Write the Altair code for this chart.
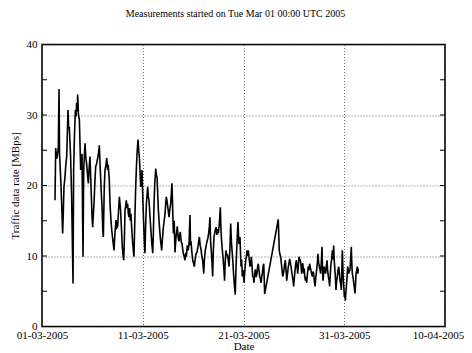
import altair as alt
import pandas as pd

# Day offsets from 2005-03-01 00:00 UTC and traffic rate [MBps]
days = [
    1.29, 1.36, 1.45, 1.52, 1.62, 1.69, 1.74, 1.79, 1.87, 1.95, 2.05, 2.12, 2.18, 2.27, 2.35,
    2.45, 2.52, 2.58, 2.65, 2.71, 2.78, 2.84, 2.94, 3.08, 3.14, 3.22, 3.31, 3.38, 3.44, 3.50,
    3.54, 3.62, 3.71, 3.78, 3.84, 3.92, 3.97, 4.07, 4.14, 4.20, 4.27, 4.35, 4.43, 4.52, 4.60,
    4.68, 4.76, 4.84, 4.90, 4.97, 5.03, 5.10, 5.16, 5.25, 5.33, 5.41, 5.49, 5.60, 5.69, 5.76,
    5.82, 5.90, 5.96, 6.04, 6.09, 6.18, 6.25, 6.35, 6.42, 6.50, 6.58, 6.68, 6.75, 6.85, 6.92,
    7.05, 7.15, 7.25, 7.35, 7.43, 7.51, 7.60, 7.68, 7.80, 7.90, 7.97, 8.05, 8.11, 8.18, 8.24,
    8.30, 8.37, 8.44, 8.50, 8.57, 8.63, 8.70, 8.76, 8.83, 8.90, 8.96, 9.05, 9.13, 9.22, 9.30,
    9.37, 9.43, 9.53, 9.60, 9.66, 9.73, 9.80, 9.87, 9.93, 10.01, 10.09, 10.16, 10.22, 10.29, 10.36,
    10.42, 10.49, 10.55, 10.62, 10.70, 10.79, 10.89, 10.99, 11.05, 11.12, 11.20, 11.29, 11.35, 11.42, 11.48,
    11.55, 11.62, 11.68, 11.78, 11.88, 11.96, 12.05, 12.13, 12.21, 12.28, 12.34, 12.41, 12.48, 12.55, 12.60,
    12.68, 12.77, 12.90, 13.04, 13.12, 13.20, 13.30, 13.37, 13.43, 13.52, 13.60, 13.66, 13.73, 13.82, 13.90,
    13.96, 14.03, 14.10, 14.19, 14.26, 14.33, 14.42, 14.52, 14.60, 14.69, 14.74, 14.79, 14.88, 14.96, 15.04,
    15.12, 15.20, 15.28, 15.38, 15.48, 15.55, 15.62, 15.70, 15.78, 15.86, 15.95, 16.05, 16.12, 16.21, 16.30,
    16.38, 16.46, 16.54, 16.60, 16.67, 16.74, 16.80, 16.88, 16.94, 17.00, 17.07, 17.17, 17.27, 17.36, 17.44,
    17.50, 17.60, 17.70, 17.77, 17.83, 17.92, 17.99, 18.06, 18.12, 18.18, 18.25, 18.32, 18.39, 18.48, 18.56,
    18.65, 18.73, 18.80, 18.86, 18.93, 18.99, 19.06, 19.18, 19.26, 19.36, 19.45, 19.55, 19.65, 19.75, 19.82,
    19.88, 19.96, 20.05, 20.14, 20.22, 20.30, 20.35, 20.42, 20.48, 20.57, 20.65, 20.72, 20.78, 20.85, 20.91,
    20.98, 21.04, 21.11, 21.18, 21.26, 21.34, 21.40, 21.47, 21.54, 21.61, 21.68, 21.74, 21.80, 21.87, 21.94,
    22.01, 22.10, 23.45, 23.55, 23.62, 23.69, 23.79, 23.89, 23.96, 24.02, 24.08, 24.15, 24.22, 24.29, 24.37,
    24.45, 24.52, 24.58, 24.65, 24.72, 24.78, 24.85, 24.92, 24.98, 25.05, 25.12, 25.18, 25.25, 25.32, 25.38,
    25.45, 25.51, 25.58, 25.64, 25.70, 25.77, 25.84, 25.88, 25.96, 26.04, 26.08, 26.14, 26.20, 26.27, 26.35,
    26.43, 26.50, 26.56, 26.62, 26.69, 26.76, 26.83, 26.90, 26.96, 27.03, 27.10, 27.18, 27.26, 27.33, 27.39,
    27.46, 27.53, 27.60, 27.66, 27.72, 27.79, 27.84, 27.89, 27.95, 28.02, 28.08, 28.15, 28.22, 28.29, 28.35,
    28.42, 28.49, 28.55, 28.62, 28.68, 28.75, 28.82, 28.88, 28.95, 29.00, 29.05, 29.12, 29.18, 29.25, 29.32,
    29.38, 29.45, 29.52, 29.58, 29.65, 29.71, 29.76, 29.81, 29.86, 29.91, 29.96, 30.01, 30.06, 30.11, 30.16,
    30.21, 30.28, 30.34, 30.39, 30.44, 30.50, 30.57, 30.63, 30.70, 30.75, 30.80, 30.87, 30.94, 31.00, 31.07,
    31.12, 31.17, 31.24, 31.30, 31.35, 31.40,
]

rates = [
    17.9, 25.3, 23.8, 24.1, 25.4, 33.7, 24.5, 23.1, 20.5, 17.4, 13.2, 16.5, 19.8, 21.0, 22.7,
    24.1, 27.5, 30.7, 28.0, 28.3, 26.0, 24.1, 18.4, 6.1, 22.2, 27.0, 30.7, 29.8, 31.7, 30.5,
    32.9, 30.0, 29.3, 25.5, 22.2, 23.0, 24.5, 9.9, 22.2, 24.0, 26.0, 24.0, 23.1, 21.5, 20.3,
    22.5, 24.1, 21.0, 18.4, 15.5, 14.1, 16.0, 17.4, 20.5, 22.7, 23.0, 23.6, 24.5, 25.7, 23.0,
    21.2, 18.5, 17.0, 13.5, 12.7, 19.8, 22.2, 22.9, 23.9, 22.5, 22.7, 20.8, 17.4, 15.0, 13.7,
    12.0, 10.8, 13.5, 15.1, 14.0, 14.2, 16.5, 18.4, 16.5, 13.5, 11.3, 10.0, 9.4, 12.5, 16.5,
    17.0, 17.9, 16.8, 17.4, 16.0, 15.5, 16.8, 15.0, 16.0, 14.0, 12.7, 11.0, 9.9, 15.5, 19.8,
    22.5, 24.5, 26.5, 25.0, 24.1, 22.0, 19.8, 21.0, 22.2, 18.0, 14.6, 12.0, 10.4, 14.5, 17.4,
    18.5, 19.8, 18.5, 17.9, 16.0, 14.1, 12.0, 10.4, 13.0, 17.4, 20.5, 22.4, 21.5, 21.2, 19.0,
    16.5, 15.0, 13.7, 12.0, 10.8, 12.5, 14.1, 15.0, 16.0, 17.5, 18.4, 17.8, 17.0, 16.2, 15.5,
    16.5, 17.4, 20.3, 13.2, 15.0, 10.5, 12.7, 13.5, 14.2, 12.5, 12.1, 13.0, 13.4, 12.0, 11.7,
    11.0, 10.3, 10.0, 9.4, 10.5, 9.9, 11.5, 10.8, 12.0, 15.8, 11.5, 12.1, 10.5, 9.4, 9.0,
    8.5, 9.5, 10.3, 10.5, 11.3, 12.0, 12.7, 11.5, 11.0, 10.0, 9.4, 7.5, 9.5, 10.8, 11.5,
    12.1, 12.5, 13.2, 14.0, 15.5, 12.0, 10.8, 9.0, 7.1, 10.5, 12.7, 13.5, 14.1, 13.0, 13.8,
    13.2, 14.5, 16.9, 13.5, 12.1, 10.5, 9.4, 8.0, 6.5, 9.0, 10.8, 10.0, 10.3, 9.5, 8.5,
    11.0, 14.6, 12.0, 10.8, 9.5, 8.0, 6.5, 4.5, 8.5, 12.1, 14.8, 11.7, 12.7, 8.5, 9.5,
    7.1, 8.0, 6.2, 8.0, 9.4, 10.0, 10.8, 10.0, 10.8, 9.5, 8.5, 9.0, 9.9, 8.5, 7.1,
    7.0, 6.2, 7.5, 8.1, 7.0, 7.5, 8.5, 8.9, 8.0, 7.1, 6.8, 6.2, 7.0, 7.5, 8.5,
    8.9, 4.6, 15.2, 10.8, 10.2, 9.9, 8.5, 7.1, 7.5, 8.0, 8.8, 9.4, 8.0, 6.5, 7.5,
    8.5, 9.0, 9.6, 9.0, 8.5, 7.8, 7.1, 6.5, 5.7, 7.0, 8.0, 8.8, 9.4, 8.5, 7.5,
    8.8, 9.9, 9.5, 9.4, 8.8, 7.5, 8.5, 9.0, 7.8, 8.0, 7.1, 6.5, 7.0, 6.2, 7.5,
    8.5, 8.0, 8.9, 8.5, 8.0, 7.5, 7.1, 7.8, 7.5, 6.5, 5.7, 7.0, 8.0, 9.0, 10.3,
    9.0, 8.5, 8.0, 7.5, 9.0, 11.3, 8.5, 6.5, 7.5, 8.5, 8.0, 7.5, 8.5, 9.4, 8.0,
    7.1, 6.5, 5.7, 7.5, 8.9, 9.5, 10.8, 9.5, 11.5, 9.5, 8.5, 7.0, 5.2, 6.5, 7.1,
    8.0, 8.5, 7.5, 6.5, 6.0, 5.2, 8.0, 10.8, 8.5, 6.5, 5.5, 4.2, 4.5, 3.7, 4.8,
    5.7, 7.0, 8.5, 8.0, 7.5, 7.8, 8.0, 9.5, 11.3, 9.0, 7.5, 7.0, 6.2, 5.5, 4.7,
    6.0, 7.5, 8.0, 8.5, 7.5, 8.2,
]

x_tick_dates = ["2005-03-01", "2005-03-11", "2005-03-21", "2005-03-31", "2005-04-10"]
y_ticks = [0, 10, 20, 30, 40]
y_minor = [5, 10, 15, 20, 25, 30, 35]

FONT = "Liberation Serif"
W, H = 403, 282

start = pd.Timestamp("2005-03-01T00:00:00Z")
times = [(start + pd.Timedelta(days=d)).strftime("%Y-%m-%dT%H:%M:%SZ") for d in days]
df = pd.DataFrame({"t": times, "rate": rates})


def dt(s):
    y, m, d = (int(v) for v in s.split("-"))
    return alt.DateTime(year=y, month=m, date=d, utc=True)


xscale = alt.Scale(type="utc", domain=[dt(x_tick_dates[0]), dt(x_tick_dates[-1])])
yscale = alt.Scale(domain=[0, 40], nice=False)

line = alt.Chart(df).mark_line(color="black", strokeWidth=1.6, strokeJoin="miter").encode(
    x=alt.X(
        "t:T",
        scale=xscale,
        axis=alt.Axis(
            title="Date",
            values=[dt(s) for s in x_tick_dates],
            format="%d-%m-%Y",
            grid=True,
            labelFlush=False,
            labelOverlap=False,
            labelBound=False,
            labelPadding=3,
            labelOffset={"condition": {"test": "datum.value > 1112500000000", "value": -7}, "value": 0},
            titlePadding=0,
        ),
    ),
    y=alt.Y(
        "rate:Q",
        scale=yscale,
        axis=alt.Axis(
            title="Traffic data rate [MBps]",
            values=y_ticks,
            grid=True,
            labelPadding=5,
            titlePadding=6,
        ),
    ),
)

tick_df = pd.DataFrame({"v": y_minor})
left_ticks = alt.Chart(tick_df).mark_rule(color="black", strokeWidth=1).encode(
    y=alt.Y("v:Q", scale=yscale), x=alt.value(0), x2=alt.value(5)
)
right_ticks = alt.Chart(tick_df).mark_rule(color="black", strokeWidth=1).encode(
    y=alt.Y("v:Q", scale=yscale), x=alt.value(W - 5), x2=alt.value(W)
)

chart = (
    alt.layer(line, left_ticks, right_ticks)
    .properties(
        width=W,
        height=H,
        title=alt.TitleParams(
            "Measurements started on Tue Mar 01 00:00 UTC 2005",
            font=FONT,
            fontSize=10,
            fontWeight="normal",
            color="black",
            anchor="middle",
            offset=20,
            dx=-8,
        ),
        autosize=alt.AutoSizeParams(type="none"),
        padding={"left": 34, "top": 36.5, "right": 19, "bottom": 26},
    )
    .configure_view(stroke="black", strokeWidth=1.6)
    .configure_axis(
        labelFont=FONT,
        titleFont=FONT,
        labelFontSize=11,
        titleFontSize=11,
        titleFontWeight="normal",
        labelColor="black",
        titleColor="black",
        domain=False,
        ticks=False,
        gridColor="#444444",
        gridDash=[1, 2],
        gridWidth=0.8,
    )
)

chart.save("out.html", embed_options={"renderer": "svg", "actions": False})
